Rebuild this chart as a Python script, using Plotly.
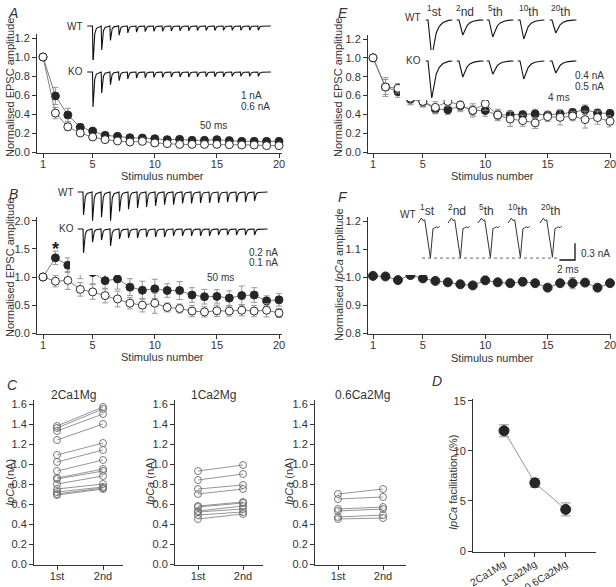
import plotly.graph_objects as go

W, H = 616, 587
FONT = "Liberation Sans, Arial, sans-serif"
TXT = "#333333"

# ---------------- data ----------------
stim = list(range(1, 21))

# Panel A (normalised EPSC, 2Ca/1Mg) filled = WT, open = KO
A_wt = [1.00, 0.59, 0.39, 0.26, 0.22, 0.175, 0.165, 0.15, 0.147, 0.14, 0.13, 0.133, 0.123, 0.123, 0.13, 0.12, 0.112, 0.112, 0.112, 0.112]
A_wt_err = [0, 0.09, 0.07, 0.03, 0.02, 0.02, 0.02, 0.015, 0.015, 0.015, 0.012, 0.012, 0.012, 0.012, 0.012, 0.01, 0.01, 0.01, 0.01, 0.01]
A_ko = [1.00, 0.41, 0.265, 0.20, 0.158, 0.13, 0.116, 0.105, 0.112, 0.095, 0.088, 0.08, 0.08, 0.08, 0.08, 0.077, 0.074, 0.074, 0.067, 0.067]
A_ko_err = [0, 0.06, 0.04, 0.02, 0.015, 0.012, 0.01, 0.01, 0.01, 0.01, 0.01, 0.01, 0.01, 0.01, 0.01, 0.01, 0.01, 0.01, 0.01, 0.01]

# Panel B
B_wt = [1.00, 1.34, 1.21, 1.19, 1.08, 0.935, 0.965, 0.82, 0.765, 0.79, 0.76, 0.76, 0.68, 0.65, 0.655, 0.625, 0.67, 0.68, 0.576, 0.594]
B_wt_err = [0, 0.12, 0.13, 0.22, 0.20, 0.15, 0.18, 0.15, 0.16, 0.17, 0.12, 0.16, 0.13, 0.13, 0.12, 0.13, 0.17, 0.13, 0.09, 0.11]
B_ko = [1.00, 0.925, 0.94, 0.78, 0.735, 0.67, 0.61, 0.535, 0.50, 0.535, 0.46, 0.44, 0.395, 0.38, 0.40, 0.395, 0.41, 0.395, 0.41, 0.36]
B_ko_err = [0, 0.10, 0.16, 0.12, 0.13, 0.13, 0.14, 0.10, 0.12, 0.18, 0.08, 0.08, 0.10, 0.09, 0.10, 0.09, 0.10, 0.10, 0.12, 0.08]

# Panel C (IpCa, nA; 1st vs 2nd)
C_conds = ["2Ca1Mg", "1Ca2Mg", "0.6Ca2Mg"]
C1_1st = [1.38, 1.36, 1.33, 1.24, 1.09, 1.02, 0.93, 0.86, 0.85, 0.80, 0.75, 0.72, 0.70, 0.69]
C1_2nd = [1.57, 1.55, 1.50, 1.40, 1.21, 1.14, 1.04, 0.95, 0.93, 0.88, 0.80, 0.77, 0.76, 0.75]
C2_1st = [0.93, 0.84, 0.75, 0.70, 0.58, 0.57, 0.53, 0.52, 0.49, 0.45]
C2_2nd = [0.99, 0.90, 0.79, 0.75, 0.62, 0.61, 0.58, 0.55, 0.52, 0.50]
C3_1st = [0.70, 0.65, 0.55, 0.53, 0.47, 0.45]
C3_2nd = [0.75, 0.67, 0.57, 0.55, 0.49, 0.46]
C_xlabels = ["1st", "2nd"]

# Panel D
D_fac = [12.0, 6.8, 4.15]
D_err = [0.6, 0.45, 0.65]

# Panel E
E_wt = [1.0, 0.69, 0.64, 0.56, 0.533, 0.456, 0.449, 0.49, 0.44, 0.44, 0.393, 0.396, 0.396, 0.404, 0.393, 0.404, 0.42, 0.449, 0.414, 0.41]
E_wt_err = [0, 0.08, 0.06, 0.05, 0.05, 0.05, 0.05, 0.05, 0.05, 0.06, 0.05, 0.04, 0.04, 0.05, 0.04, 0.04, 0.04, 0.05, 0.04, 0.04]
E_ko = [1.0, 0.69, 0.677, 0.572, 0.537, 0.474, 0.537, 0.498, 0.442, 0.512, 0.393, 0.35, 0.333, 0.309, 0.375, 0.368, 0.382, 0.344, 0.365, 0.326]
E_ko_err = [0, 0.10, 0.05, 0.07, 0.06, 0.06, 0.05, 0.07, 0.07, 0.07, 0.06, 0.08, 0.06, 0.06, 0.05, 0.08, 0.05, 0.09, 0.07, 0.06]

# Panel F
F_wt = [1.004, 1.002, 0.989, 1.007, 0.995, 0.986, 0.981, 0.974, 0.97, 0.988, 0.981, 0.978, 0.983, 0.978, 0.962, 0.978, 0.978, 0.98, 0.962, 0.978]
F_wt_err = [0.003, 0.004, 0.004, 0.004, 0.005, 0.005, 0.006, 0.007, 0.007, 0.006, 0.006, 0.006, 0.006, 0.007, 0.012, 0.01, 0.02, 0.01, 0.012, 0.012]

# Inset example traces: peak current of each response (nA)
A_tr_wt = [1.80, 1.10, 0.66, 0.42, 0.32, 0.28, 0.26, 0.25, 0.24, 0.23, 0.22, 0.22, 0.21, 0.21, 0.21, 0.20, 0.20, 0.20, 0.19, 0.19]
A_tr_ko = [0.97, 0.58, 0.35, 0.24, 0.19, 0.17, 0.16, 0.15, 0.15, 0.14, 0.14, 0.14, 0.13, 0.13, 0.13, 0.13, 0.12, 0.12, 0.12, 0.12]
B_tr_wt = [0.20, 0.25, 0.22, 0.25, 0.17, 0.15, 0.14, 0.13, 0.12, 0.11, 0.11, 0.10, 0.10, 0.095, 0.095, 0.095, 0.087, 0.087, 0.087, 0.078]
B_tr_ko = [0.104, 0.057, 0.048, 0.074, 0.043, 0.039, 0.039, 0.035, 0.035, 0.035, 0.030, 0.030, 0.030, 0.030, 0.030, 0.026, 0.026, 0.026, 0.026, 0.026]
EF_labels = ["<sup>1</sup>st", "<sup>2</sup>nd", "<sup>5</sup>th", "<sup>10</sup>th", "<sup>20</sup>th"]
E_tr_wt = [0.74, 0.30, 0.34, 0.38, 0.26]
E_tr_ko = [0.925, 0.40, 0.33, 0.45, 0.30]
F_tr_wt = [0.63, 0.63, 0.62, 0.62, 0.615]

# waveform templates (shape only: time in ms, fraction of peak)
PULSE_SHAPE = [(0.0, 0.0), (0.6, -1.0), (1.4, -0.5), (2.6, -0.2), (4.5, -0.06), (9.8, 0.0)]
EPSC_SHAPE = [(-0.6, 0.0), (0.0, 0.0), (1.0, -1.0), (1.6, -0.62), (2.2, -0.35), (3.0, -0.17), (4.0, -0.07), (5.5, -0.01), (6.5, 0.0)]
ICA_SHAPE = [(0.0, 0.0), (0.44, 0.14), (0.64, 0.07), (0.86, 0.09), (1.59, -1.0), (1.92, -0.16), (2.14, -0.14), (2.36, -0.11), (2.56, -0.14), (2.78, -0.09)]

# ---------------- helpers ----------------
def lin(p0, v0, p1, v1, p):
    return v0 + (p - p0) * (v1 - v0) / (p1 - p0)

def haxis(pa, va, pb, vb, lo, hi):
    return [lo / W, hi / W], [lin(pa, va, pb, vb, lo), lin(pa, va, pb, vb, hi)]

def vaxis(pa, va, pb, vb, bot, top):
    return [1 - bot / H, 1 - top / H], [lin(pa, va, pb, vb, bot), lin(pa, va, pb, vb, top)]

fig = go.Figure()
layout = {}
axcount = [0]

def main_axes(xg, yg, xticks, yticks, yfmt=".1f", xtext=None, xangle=0, xfont=11):
    axcount[0] += 1
    n = axcount[0]
    s = "" if n == 1 else str(n)
    common = dict(showline=True, linecolor="#333", linewidth=1, ticks="outside", ticklen=4,
                  tickcolor="#333", tickwidth=1, showgrid=False, zeroline=False, automargin=False,
                  tickfont=dict(size=11, color=TXT, family=FONT), fixedrange=True)
    xa = dict(common, domain=xg[0], range=xg[1], anchor="y" + s, tickvals=xticks, ticklabelstandoff=-3,
              tickfont=dict(size=xfont, color=TXT, family=FONT))
    if xtext is not None:
        xa["ticktext"] = xtext
    if xangle:
        xa["tickangle"] = xangle
    ya = dict(common, domain=yg[0], range=yg[1], anchor="x" + s, tickvals=yticks, tickformat=yfmt)
    layout["xaxis" + s] = xa
    layout["yaxis" + s] = ya
    return "x" + s, "y" + s

def inset_axes(x0, x1, top, bot, t0px, mspx, basepx, napx):
    axcount[0] += 1
    s = str(axcount[0])
    layout["xaxis" + s] = dict(domain=[x0 / W, x1 / W], range=[(x0 - t0px) / mspx, (x1 - t0px) / mspx],
                               visible=False, anchor="y" + s, fixedrange=True, automargin=False)
    layout["yaxis" + s] = dict(domain=[1 - bot / H, 1 - top / H], range=[(basepx - bot) / napx, (basepx - top) / napx],
                               visible=False, anchor="x" + s, fixedrange=True, automargin=False)
    conv = lambda px, py: ((px - t0px) / mspx, (basepx - py) / napx)
    return "x" + s, "y" + s, conv

FILL = "#262626"
LINEC = "#6e6e6e"
ERRC = "#8c8c8c"

def series(xa, ya, y, err, filled, size=8):
    fig.add_trace(go.Scatter(
        x=stim, y=y, xaxis=xa, yaxis=ya, mode="lines+markers",
        line=dict(color=LINEC, width=0.9),
        marker=dict(size=size, color=FILL if filled else "white", line=dict(color="#2a2a2a", width=1)),
        error_y=dict(type="data", array=err, color=ERRC, thickness=0.9, width=3),
        showlegend=False, cliponaxis=False))

def train(peaks, isi=10.0):
    xs, ys = [-6.0], [0.0]
    for i, a in enumerate(peaks):
        for dt, f in PULSE_SHAPE:
            xs.append(i * isi + dt)
            ys.append(f * a)
    xs.append(len(peaks) * isi + 5)
    ys.append(0.0)
    return xs, ys

def line_trace(xa, ya, xs, ys, color="#111", width=1.1, dash=None):
    fig.add_trace(go.Scatter(x=xs, y=ys, xaxis=xa, yaxis=ya, mode="lines",
                             line=dict(color=color, width=width, dash=dash),
                             showlegend=False, cliponaxis=False, hoverinfo="skip"))

def scalebar(xa, ya, conv, corner_px, dt, di):
    cx, cy = conv(*corner_px)
    line_trace(xa, ya, [cx - dt, cx, cx], [cy, cy, cy + di], color="#111", width=1.3)

annots = []

def text(px, py, s, size=11, xanchor="center", italic=False, angle=0, color=TXT):
    annots.append(dict(x=px / W, y=1 - py / H, xref="paper", yref="paper", text=s, showarrow=False,
                       xanchor=xanchor, yanchor="middle", textangle=angle,
                       font=dict(size=size, color=color, family=FONT)))

# ---------------- Panel A ----------------
xa, ya = main_axes(haxis(43, 1, 279, 20, 37, 282), vaxis(152, 0, 38, 1.2, 153, 34),
                   [1, 5, 10, 15, 20], [0, 0.2, 0.4, 0.6, 0.8, 1.0, 1.2])
series(xa, ya, A_wt, A_wt_err, True)
series(xa, ya, A_ko, A_ko_err, False)
ix, iy, cv = inset_axes(80, 282, 15, 118, 92.5, 0.87, 26, 21.7)
xs, ys = train(A_tr_wt); line_trace(ix, iy, xs, ys)
scalebar(ix, iy, cv, (235, 112), 50, 1.0)
ix, iy, cv = inset_axes(80, 282, 60, 118, 92.5, 0.87, 72, 21.7 / 0.6)
xs, ys = train(A_tr_ko); line_trace(ix, iy, xs, ys)
text(75, 26, "WT", 10); text(75, 72, "KO", 10)
text(239, 95, "1 nA", 10, "left"); text(239, 106, "0.6 nA", 10, "left"); text(213, 125, "50 ms", 10)
text(10, 88, "Normalised EPSC amplitude", 11, angle=-90)
text(162, 176, "Stimulus number", 11)
text(13, 13, "<i>A</i>", 14)

# ---------------- Panel B ----------------
xa, ya = main_axes(haxis(43, 1, 279, 20, 37, 282), vaxis(333.3, 0, 220.7, 2.0, 334, 217),
                   [1, 5, 10, 15, 20], [0, 0.5, 1.0, 1.5, 2.0])
series(xa, ya, B_wt, B_wt_err, True)
series(xa, ya, B_ko, B_ko_err, False)
ix, iy, cv = inset_axes(70, 282, 185, 275, 83, 0.9, 192, 23 / 0.2)
xs, ys = train(B_tr_wt); line_trace(ix, iy, xs, ys)
scalebar(ix, iy, cv, (243, 270), 50, 0.2)
ix, iy, cv = inset_axes(70, 282, 222, 275, 83, 0.9, 229, 23 / 0.1)
xs, ys = train(B_tr_ko); line_trace(ix, iy, xs, ys)
text(66, 192, "WT", 10); text(66, 229, "KO", 10)
text(247, 252, "0.2 nA", 10, "left"); text(247, 262, "0.1 nA", 10, "left"); text(220, 278, "50 ms", 10)
text(55.5, 249, "<b>*</b>", 18, color="#222")
text(10, 268, "Normalised EPSC amplitude", 11, angle=-90)
text(162, 357, "Stimulus number", 11)
text(13, 194, "<i>B</i>", 14)

# ---------------- Panel C ----------------
def pairs(xa, ya, first, second):
    xs, ys = [], []
    for a, b in zip(first, second):
        xs += [1, 2, None]
        ys += [a, b, None]
    fig.add_trace(go.Scatter(x=xs, y=ys, xaxis=xa, yaxis=ya, mode="lines+markers",
                             line=dict(color="#7a7a7a", width=0.8),
                             marker=dict(size=7, color="rgba(255,255,255,0)", line=dict(color="#6a6a6a", width=0.9)),
                             showlegend=False, cliponaxis=False, connectgaps=False))

cy = vaxis(564, 0, 404, 1.6, 565, 400)
cyt = [0, 0.2, 0.4, 0.6, 0.8, 1.0, 1.2, 1.4, 1.6]
for (x1, x2, lo, hi), f, s, title, tx, ax in [
        ((57, 103, 34, 123), C1_1st, C1_2nd, C_conds[0], 73, 10),
        ((198, 243, 175, 263), C2_1st, C2_2nd, C_conds[1], 213, 150),
        ((338, 383, 315, 406), C3_1st, C3_2nd, C_conds[2], 362, 289)]:
    xa, ya = main_axes(haxis(x1, 1, x2, 2, lo, hi), cy, [1, 2], cyt, xtext=C_xlabels)
    pairs(xa, ya, f, s)
    text(tx, 395, title, 12)
    text(ax, 482, "<i>IpCa</i> (nA)", 11, angle=-90)
text(12, 385, "<i>C</i>", 14)

# ---------------- Panel D ----------------
xa, ya = main_axes(haxis(504, 0, 565.7, 2, 473, 596), vaxis(551, 0, 400.7, 15, 552, 399),
                   [0, 1, 2], [0, 5, 10, 15], yfmt="d", xtext=C_conds, xangle=-32, xfont=10.5)
fig.add_trace(go.Scatter(x=[0, 1, 2], y=D_fac, xaxis=xa, yaxis=ya, mode="lines+markers",
                         line=dict(color="#8a8a8a", width=0.9),
                         marker=dict(size=10, color=FILL, line=dict(color="#222", width=1)),
                         error_y=dict(type="data", array=D_err, color=ERRC, thickness=0.9, width=5),
                         showlegend=False, cliponaxis=False))
text(453, 483, "<i>IpCa</i> facilitation (%)", 11, angle=-90)
text(437, 381, "<i>D</i>", 14)

# ---------------- Panel E ----------------
xa, ya = main_axes(haxis(373, 1, 610, 20, 368, 611), vaxis(152, 0, 39, 1.2, 153, 35),
                   [1, 5, 10, 15, 20], [0, 0.2, 0.4, 0.6, 0.8, 1.0, 1.2])
series(xa, ya, E_wt, E_wt_err, True)
series(xa, ya, E_ko, E_ko_err, False)
E_starts_px = [428, 459, 489, 520, 552]
ix, iy, cv = inset_axes(400, 600, 5, 100, 400, 3.75, 20, 20 / 0.4)
for st, a in zip(E_starts_px, E_tr_wt):
    off = (st - 400) / 3.75
    line_trace(ix, iy, [off + t for t, f in EPSC_SHAPE], [f * a for t, f in EPSC_SHAPE], width=1.1)
scalebar(ix, iy, cv, (569, 90), 4, 0.4)
ix, iy, cv = inset_axes(400, 600, 50, 100, 400, 3.75, 61, 20 / 0.5)
for st, a in zip(E_starts_px, E_tr_ko):
    off = (st - 400) / 3.75
    line_trace(ix, iy, [off + t for t, f in EPSC_SHAPE], [f * a for t, f in EPSC_SHAPE], width=1.1)
for lx, lab in zip([434, 465, 495, 528, 560], EF_labels):
    text(lx, 11, lab, 12)
text(413, 17, "WT", 10); text(413, 61, "KO", 10)
text(573, 75, "0.4 nA", 10, "left"); text(573, 86, "0.5 nA", 10, "left"); text(559, 97, "4 ms", 10)
text(338, 88, "Normalised EPSC amplitude", 11, angle=-90)
text(492, 176, "Stimulus number", 11)
text(343, 13, "<i>E</i>", 14)
text(610, 164, "20", 11)  # edge tick label (plotly drops labels that overflow the page)

# ---------------- Panel F ----------------
xa, ya = main_axes(haxis(373, 1, 610, 20, 368, 611), vaxis(333, 0.8, 221, 1.2, 334, 217),
                   [1, 5, 10, 15, 20], [0.8, 0.9, 1.0, 1.1, 1.2])
series(xa, ya, F_wt, F_wt_err, True, size=9)
F_starts_px = [418, 448, 478, 508, 540]
ix, iy, cv = inset_axes(400, 600, 205, 275, 400, 7.8, 223, 16.7 / 0.3)
for st, a in zip(F_starts_px, F_tr_wt):
    off = (st - 400) / 7.8
    line_trace(ix, iy, [off + t for t, f in ICA_SHAPE], [f * a for t, f in ICA_SHAPE], color="#333", width=1.0)
d0, dI = cv(422, 0)[0], -F_tr_wt[0]
d1 = cv(558, 0)[0]
line_trace(ix, iy, [d0, d1], [dI, dI], color="#666", width=1.0, dash="dot")
scalebar(ix, iy, cv, (575, 260), 2, 0.3)
for lx, lab in zip([427, 457, 486, 517, 550], EF_labels):
    text(lx, 210, lab, 12)
text(408, 215, "WT", 10)
text(579, 253, "0.3 nA", 10, "left"); text(568, 269, "2 ms", 10)
text(339, 275, "Normalised <i>IpCa</i> amplitude", 11, angle=-90)
text(492, 358, "Stimulus number", 11)
text(343, 197, "<i>F</i>", 14)
text(610, 345, "20", 11)

fig.update_layout(width=W, height=H, margin=dict(l=0, r=0, t=0, b=0, pad=0, autoexpand=False),
                  paper_bgcolor="white", plot_bgcolor="white",
                  font=dict(family=FONT, color=TXT, size=11),
                  showlegend=False, annotations=annots, **layout)
fig.write_html("out.html", include_plotlyjs=True, config={"displayModeBar": False},
               post_script="document.body.style.margin='0';document.body.style.padding='0';document.body.style.overflow='hidden';")
